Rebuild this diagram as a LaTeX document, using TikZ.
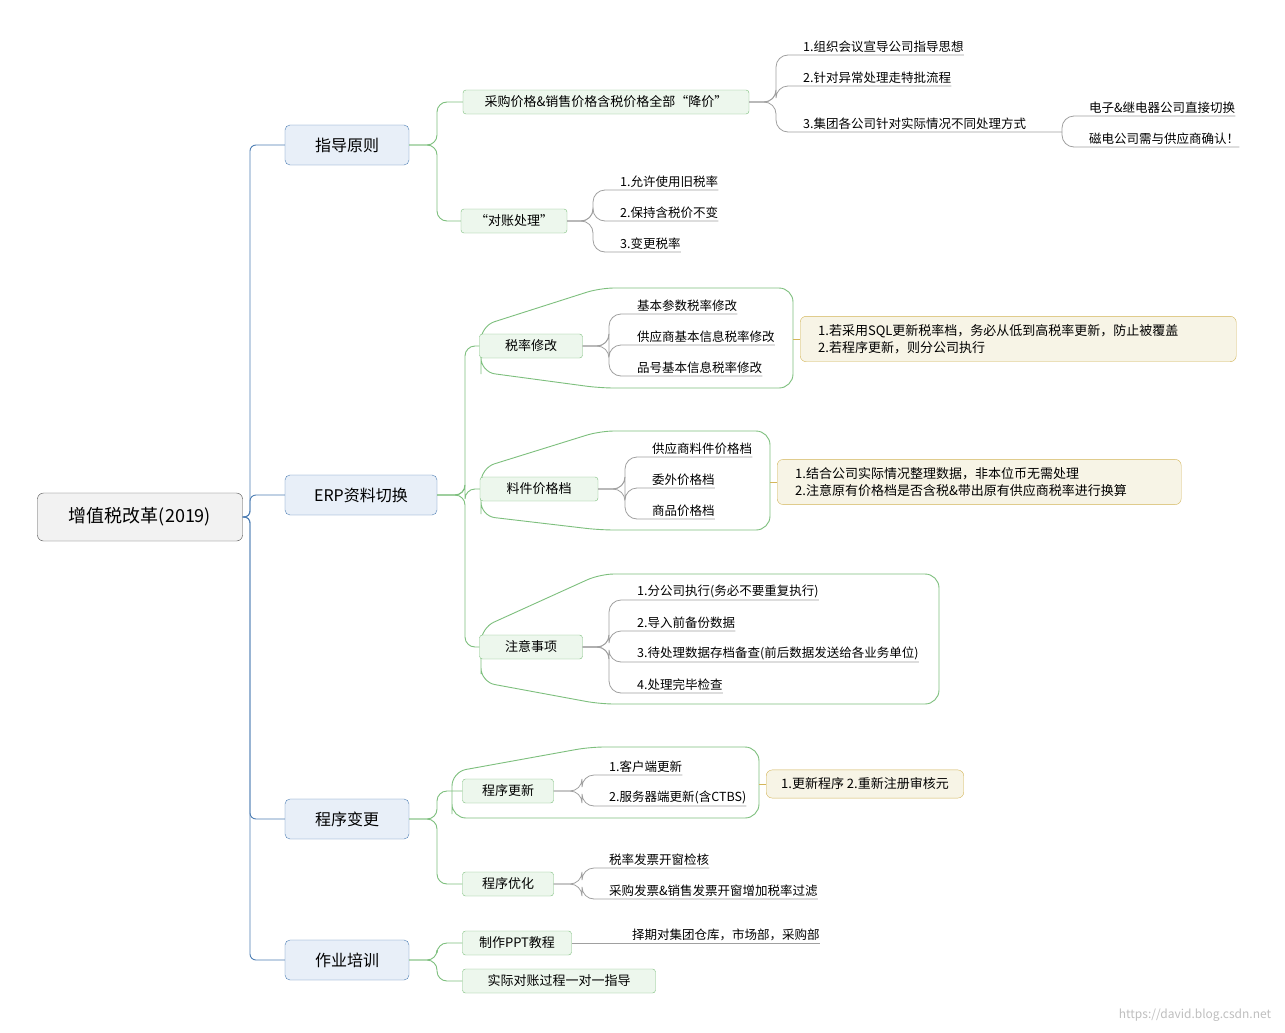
\documentclass[tikz,border=0pt]{standalone}
\usepackage{fontspec}
\setmainfont{Noto Sans CJK SC}
\usetikzlibrary{positioning}
\definecolor{bluel}{HTML}{4F7FB5}
\definecolor{bluef}{HTML}{E8EFF8}
\definecolor{greenl}{HTML}{7DBF7D}
\definecolor{greenf}{HTML}{EDF7ED}
\definecolor{grayl}{HTML}{A0A0A0}
\definecolor{goldl}{HTML}{D4B65A}
\definecolor{goldf}{HTML}{F7F4E6}
\tikzset{
  rootbox/.style={draw=black!70,fill=black!5,rounded corners=6,minimum width=205,minimum height=48,font=\fontsize{18}{20}\selectfont},
  topic/.style={draw=bluel,fill=bluef,rounded corners=5,minimum height=40,inner xsep=12,font=\fontsize{16}{18}\selectfont},
  subtopic/.style={draw=greenl,fill=greenf,rounded corners=3,minimum height=24,inner xsep=14,font=\fontsize{13}{15}\selectfont},
  leaf/.style={anchor=south west,inner xsep=0,inner ysep=2,font=\fontsize{12.5}{14}\selectfont},
  note/.style={draw=goldl,fill=goldf,rounded corners=6,anchor=west,align=left,inner xsep=18,inner ysep=8,font=\fontsize{13}{17}\selectfont},
  bline/.style={draw=bluel,line width=0.9,rounded corners=6},
  gline/.style={draw=greenl,line width=0.9,rounded corners=10},
  lline/.style={draw=grayl,line width=0.8,rounded corners=12},
  nline/.style={draw=goldl,line width=0.9},
  bound/.style={draw=greenl,line width=0.9,rounded corners=14},
}
\begin{document}
\begin{tikzpicture}[x=1pt,y=-1pt]
\useasboundingbox[fill=white] (0,0) rectangle (1285,1033);
% boundaries
\draw[bound] (481,360) -- (481,326) -- (600,288) -- (793,288) -- (793,388) -- (600,388) -- (481,372) -- cycle;
\draw[bound] (481,500) -- (481,468) -- (600,431) -- (770,431) -- (770,530) -- (600,530) -- (481,516) -- cycle;
\draw[bound] (481,660) -- (481,628) -- (600,574) -- (939,574) -- (939,704) -- (600,704) -- (481,682) -- cycle;
\draw[bound] (452,800) -- (452,772) -- (590,747) -- (759,747) -- (759,818) -- (452,818) -- cycle;
% root and main topics
\node[rootbox] (root) at (140,517) {增值税改革(2019)};
\node[topic,minimum width=124] (zd) at (347,145) {指导原则};
\node[topic,minimum width=152] (erp) at (361,495) {ERP资料切换};
\node[topic,minimum width=124] (cx) at (347,819) {程序变更};
\node[topic,minimum width=124] (zy) at (347,960) {作业培训};
\foreach \t in {zd,erp,cx,zy}
  \draw[bline] (root.east) -- (250,517) |- (\t.west);
% subtopics
\node[subtopic,minimum width=286] (cg) at (606,102) {采购价格\&销售价格含税价格全部“降价”};
\node[subtopic,minimum width=103] (dz) at (514,221) {“对账处理”};
\node[subtopic,minimum width=103] (sl) at (531,346) {税率修改};
\node[subtopic,minimum width=118] (lj) at (539,489) {料件价格档};
\node[subtopic,minimum width=103] (zs) at (531,647) {注意事项};
\node[subtopic,minimum width=91] (gx) at (508,791) {程序更新};
\node[subtopic,minimum width=91] (yh) at (508,884) {程序优化};
\node[subtopic,minimum width=109] (ppt) at (517,943) {制作PPT教程};
\node[subtopic,minimum width=193] (sj) at (559,981) {实际对账过程一对一指导};
\foreach \t in {cg,dz} \draw[gline] (zd.east) -- (437,145) |- (\t.west);
\foreach \t in {sl,lj,zs} \draw[gline] (erp.east) -- (465,495) |- (\t.west);
\foreach \t in {gx,yh} \draw[gline] (cx.east) -- (437,819) |- (\t.west);
\foreach \t in {ppt,sj} \draw[gline] (zy.east) -- (437,960) |- (\t.west);
% leaves
\node[leaf] (cg1) at (803,55) {1.组织会议宣导公司指导思想};
\node[leaf] (cg2) at (803,86) {2.针对异常处理走特批流程};
\node[leaf] (cg3) at (803,132) {3.集团各公司针对实际情况不同处理方式};
\coordinate (cg3e) at (1062,132);
\foreach \t in {cg1,cg2} \draw[lline] (cg.east) -- (776,102) |- (\t.south east);
\draw[lline] (cg.east) -- (776,102) |- (cg3e);
\node[leaf] (cg31) at (1089,116) {电子\&继电器公司直接切换};
\node[leaf] (cg32) at (1089,147) {磁电公司需与供应商确认！};
\foreach \t in {cg31,cg32} \draw[lline] (cg3e) |- (\t.south east);
\node[leaf] (dz1) at (620,190) {1.允许使用旧税率};
\node[leaf] (dz2) at (620,221) {2.保持含税价不变};
\node[leaf] (dz3) at (620,252) {3.变更税率};
\foreach \t in {dz1,dz2,dz3} \draw[lline] (dz.east) -- (593,221) |- (\t.south east);
\node[leaf] (sl1) at (637,314) {基本参数税率修改};
\node[leaf] (sl2) at (637,345) {供应商基本信息税率修改};
\node[leaf] (sl3) at (637,376) {品号基本信息税率修改};
\foreach \t in {sl1,sl2,sl3} \draw[lline] (sl.east) -- (609,346) |- (\t.south east);
\node[leaf] (lj1) at (652,457) {供应商料件价格档};
\node[leaf] (lj2) at (652,488) {委外价格档};
\node[leaf] (lj3) at (652,519) {商品价格档};
\foreach \t in {lj1,lj2,lj3} \draw[lline] (lj.east) -- (625,489) |- (\t.south east);
\node[leaf] (zs1) at (637,600) {1.分公司执行(务必不要重复执行)};
\node[leaf] (zs2) at (637,631) {2.导入前备份数据};
\node[leaf] (zs3) at (637,662) {3.待处理数据存档备查(前后数据发送给各业务单位)};
\node[leaf] (zs4) at (637,693) {4.处理完毕检查};
\foreach \t in {zs1,zs2,zs3,zs4} \draw[lline] (zs.east) -- (609,647) |- (\t.south east);
\node[leaf] (gx1) at (609,775) {1.客户端更新};
\node[leaf] (gx2) at (609,806) {2.服务器端更新(含CTBS)};
\foreach \t in {gx1,gx2} \draw[lline] (gx.east) -- (582,791) |- (\t.south east);
\node[leaf] (yh1) at (609,868) {税率发票开窗检核};
\node[leaf] (yh2) at (609,899) {采购发票\&销售发票开窗增加税率过滤};
\foreach \t in {yh1,yh2} \draw[lline] (yh.east) -- (582,884) |- (\t.south east);
\node[leaf] (ppt1) at (632,943) {择期对集团仓库，市场部，采购部};
\draw[lline] (ppt.east) -- (ppt1.south east);
% notes
\node[note,text width=400] (n1) at (800,339) {1.若采用SQL更新税率档，务必从低到高税率更新，防止被覆盖\\2.若程序更新，则分公司执行};
\node[note,text width=368] (n2) at (777,482) {1.结合公司实际情况整理数据，非本位币无需处理\\2.注意原有价格档是否含税\&带出原有供应商税率进行换算};
\node[note,inner xsep=15] (n3) at (766,784) {1.更新程序 2.重新注册审核元};
\coordinate (b1) at (793,339);
\coordinate (b2) at (770,482);
\coordinate (b3) at (759,784);
\draw[nline] (b1) -- (n1.west);
\draw[nline] (b2) -- (n2.west);
\draw[nline] (b3) -- (n3.west);
\node[text=black!25,font=\fontsize{12}{14}\selectfont] (wm) at (1195,1015) {https://david.blog.csdn.net};
\end{tikzpicture}
\end{document}
